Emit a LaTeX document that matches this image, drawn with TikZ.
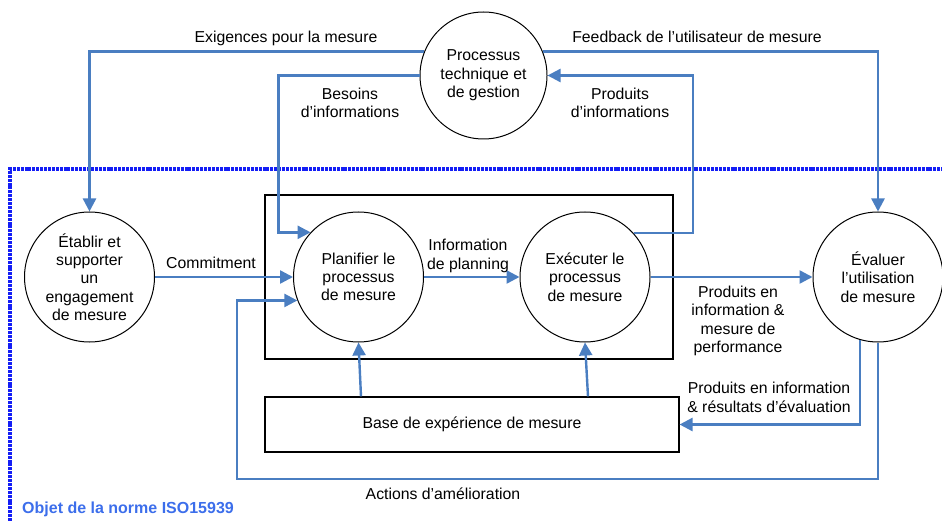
\documentclass[tikz,border=0pt]{standalone}
\usepackage{fontspec}
\setmainfont{Liberation Sans}
\usetikzlibrary{arrows.meta,calc}
\definecolor{flowblue}{RGB}{74,126,193}
\definecolor{scopeblue}{RGB}{20,30,245}
\definecolor{titleblue}{RGB}{60,110,235}
\tikzset{
  proc/.style={draw=black, line width=1pt, circle, minimum size=130pt, inner sep=0pt, align=center, font=\fontsize{15.8}{18.3}\selectfont},
  boxr/.style={draw=black, line width=1.1pt, rectangle, inner sep=0pt, font=\fontsize{15.8}{18.3}\selectfont},
  lbl/.style={align=center, inner sep=0pt, font=\fontsize{15.8}{18.3}\selectfont},
  flow/.style={draw=flowblue, line width=2.4pt, -{Triangle[length=13pt,width=13pt]}},
  scopeline/.style={draw=scopeblue, line width=3.2pt, dash pattern=on 3pt off 0.9pt}
}
\begin{document}
\begin{tikzpicture}[x=1pt,y=-1pt]
\useasboundingbox (0,0) rectangle (942,521);
% scope border
\draw[scopeline] (10,521) -- (10,169) -- (942,169);
% group box
\node[boxr, minimum width=408pt, minimum height=164pt] (grp) at (469,277) {};
\node[boxr, minimum width=414pt, minimum height=55pt] (base) at (472,424.5) {Base de expérience de mesure};
% circles
\node[proc, minimum size=127pt] (ptg) at (483.5,75.5) {Processus\\technique et\\de gestion};
\node[proc] (etab) at (89.5,277) {Établir et\\supporter\\un\\engagement\\de mesure};
\node[proc] (plan) at (358.5,277) {Planifier le\\processus\\de mesure};
\node[proc] (exec) at (585,277) {Exécuter le\\processus\\de mesure};
\node[proc] (eval) at (878,277) {Évaluer\\l’utilisation\\de mesure};
% connectors
\draw[flow] (ptg.158) -| (etab.north);
\draw[flow] (ptg.west) -| ($(plan.137)+(-32,0)$) -- (plan.137);
\draw[flow] (ptg.22) -| (eval.north);
\draw[flow] (exec.42.6) -| ($(ptg.east)+(145.5,0)$) -- (ptg.east);
\draw[flow] (etab.east) -- (plan.west);
\draw[flow] (plan.east) -- (exec.west);
\draw[flow] (exec.east) -- (eval.west);
\draw[flow] (eval.254) |- (base.east);
\coordinate (a1) at (237,479);
\draw[flow] (eval.south) |- (a1) |- (plan.201.7);
\draw[flow] ($(base.north)+(-111,0)$) -- (plan.south);
\draw[flow] ($(base.north)+(116,0)$) -- (exec.south);
% labels
\node[lbl, anchor=base] (l1) at (286,43) {Exigences pour la mesure};
\node[lbl, anchor=base] (l2) at (697,43) {Feedback de l’utilisateur de mesure};
\node[lbl] (l3) at (350,103) {Besoins\\d’informations};
\node[lbl] (l4) at (620,103) {Produits\\d’informations};
\node[lbl, anchor=base] (l5) at (211,269) {Commitment};
\node[lbl] (l6) at (468,256) {Information\\de planning};
\node[lbl] (l7) at (738,321) {Produits en\\information \&\\mesure de\\performance};
\node[lbl] (l8) at (769,397.5) {Produits en information\\\& résultats d’évaluation};
\node[lbl] (l9) at (443,494) {Actions d’amélioration};
\node[lbl, anchor=west, text=titleblue, font=\fontsize{16}{19}\selectfont\bfseries] (l10) at (22,509) {Objet de la norme ISO15939};
\end{tikzpicture}
\end{document}
